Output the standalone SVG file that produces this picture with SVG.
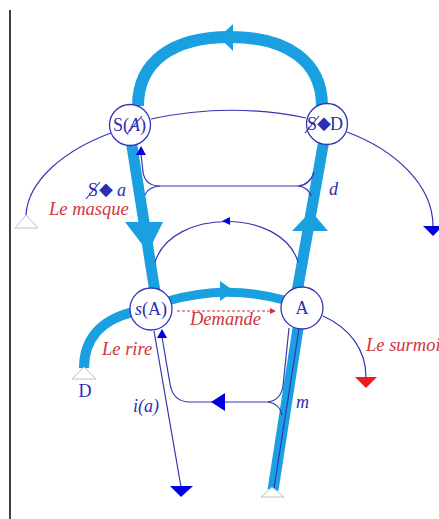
<svg xmlns="http://www.w3.org/2000/svg" width="439" height="519" viewBox="0 0 439 519">
<style>
.thick{fill:none;stroke:#1a9fe0;stroke-linecap:butt}
.thin{fill:none;stroke:#3535b5;stroke-width:1.2}
.fillb{fill:#0000e0;stroke:none}
.fillt{fill:#1a9fe0;stroke:none}
.open{fill:#fff;stroke:#b8c4d0;stroke-width:1}
.node{fill:#fff;stroke:#3535b5;stroke-width:1.3}
.bar{stroke:#2d2db0;stroke-width:1.1}
.bl{font-family:"Liberation Serif","DejaVu Serif",serif;font-size:18px;fill:#2d2db0}
.red{font-family:"Liberation Serif","DejaVu Serif",serif;font-size:18.5px;font-style:italic;fill:#d0363f}
</style>
<rect width="439" height="519" fill="#fff"/>
<line x1="10" y1="10" x2="10" y2="519" stroke="#000" stroke-width="1.5"/>
<g id="connectors">
  <path class="thick" stroke-width="12" d="M138 106 C138 62 172 37 230 37 C288 37 322 62 322 106"/>
  <polygon class="fillt" points="219,37 233,24 233,51"/>
  <path class="thick" stroke-width="11" d="M131 140 L155 292"/>
  <polygon class="fillt" points="125,222 163,222 148,252"/>
  <path class="thick" stroke-width="11" d="M324 140 L297 292"/>
  <polygon class="fillt" points="292,231 328,231 311,211"/>
  <path class="thick" stroke-width="9" d="M168 301 Q226 284 284 300"/>
  <polygon class="fillt" points="234,291 220,281 220,301"/>
  <path class="thick" stroke-width="10" d="M133 312 C100 320 84 340 84 368"/>
  <polygon class="open" stroke="#aee0f0" points="84,367 72,379 96,379"/>
  <path class="thick" stroke-width="11" d="M299 322 L273 490"/>
  <polygon class="open" points="272,487 261,497 284,497"/>
  <path class="thin" d="M151 119 Q229 102 306 118"/>
  <path class="thin" d="M111 133 C65 150 28 180 26 215"/>
  <polygon class="open" points="26,215 15,228 38,228"/>
  <path class="thin" d="M347 132 C395 150 433 185 433 226"/>
  <polygon class="fillb" points="423,226 443,226 433,236"/>
  <path class="thin" d="M160 186 L298 186"/>
  <path class="thin" d="M298 186 Q310 185 314 172"/>
  <path class="thin" d="M298 186 Q308 187 311 196"/>
  <path class="thin" d="M160 186 Q145 186 143 172 L141 154"/>
  <path class="thin" d="M160 186 Q148 187 145 195"/>
  <polygon class="fillb" points="141,146 136,155 146,155"/>
  <path class="thin" d="M155 262 C172 208 282 208 298 262"/>
  <polygon class="fillb" points="222,221 230,217 230,225"/>
  <path class="thin" d="M154 331 L181 487"/>
  <polygon class="fillb" points="170,486 193,486 181,497"/>
  <path class="thin" d="M162 337 L170 384 Q173 402 190 402 L268 402"/>
  <polygon class="fillb" points="162,329 157,338 167,338"/>
  <path class="thin" d="M268 402 Q281 400 283 386 L289 328"/>
  <path class="thin" d="M268 402 Q280 404 282 415"/>
  <polygon class="fillb" points="211,402 225,393 225,411"/>
  <path class="thin" d="M299 329 L274 488"/>
  <path class="thin" d="M323 316 C350 328 366 350 366 377"/>
  <polygon fill="#ee1c1c" points="355,377 377,377 366,388"/>
  <path d="M177 311 L270 311" fill="none" stroke="#d0363f" stroke-width="1" stroke-dasharray="3,2"/>
  <polygon fill="#d0363f" points="270,308 276,311 270,314"/>
</g>
<g id="node-SA">
  <circle class="node" cx="130" cy="125" r="20.5"/>
  <text class="bl" x="113" y="131">S(<tspan font-style="italic">A</tspan>)</text>
  <line class="bar" x1="127" y1="134" x2="142" y2="116"/>
</g>
<g id="node-SD">
  <circle class="node" cx="327" cy="124" r="20.5"/>
  <text class="bl" x="307" y="130">S</text>
  <line class="bar" x1="305" y1="133" x2="319" y2="116"/>
  <text class="bl" x="317" y="129" font-size="15">◆</text>
  <text class="bl" x="330" y="130">D</text>
</g>
<g id="node-sA">
  <circle class="node" cx="151" cy="309" r="21"/>
  <text class="bl" x="151" y="315" text-anchor="middle"><tspan font-style="italic">s</tspan>(A)</text>
</g>
<g id="node-A">
  <circle class="node" cx="302" cy="308" r="21"/>
  <text class="bl" x="302" y="314" font-size="17" text-anchor="middle">A</text>
</g>
<g id="labels">
  <text class="bl" x="88" y="196">S</text>
  <line class="bar" x1="86" y1="199" x2="100" y2="182"/>
  <text class="bl" x="99" y="195" font-size="14">◆</text>
  <text class="bl" x="117" y="196" font-style="italic">a</text>
  <text class="red" x="49" y="215">Le masque</text>
  <text class="red" x="102" y="355">Le rire</text>
  <text class="red" x="190" y="325">Demande</text>
  <text class="red" x="366" y="351">Le surmoi</text>
  <text class="bl" x="85" y="397" font-size="16" text-anchor="middle">D</text>
  <text class="bl" x="133" y="412" font-style="italic">i(a)</text>
  <text class="bl" x="296" y="408" font-style="italic">m</text>
  <text class="bl" x="329" y="195" font-style="italic">d</text>
</g>
</svg>
